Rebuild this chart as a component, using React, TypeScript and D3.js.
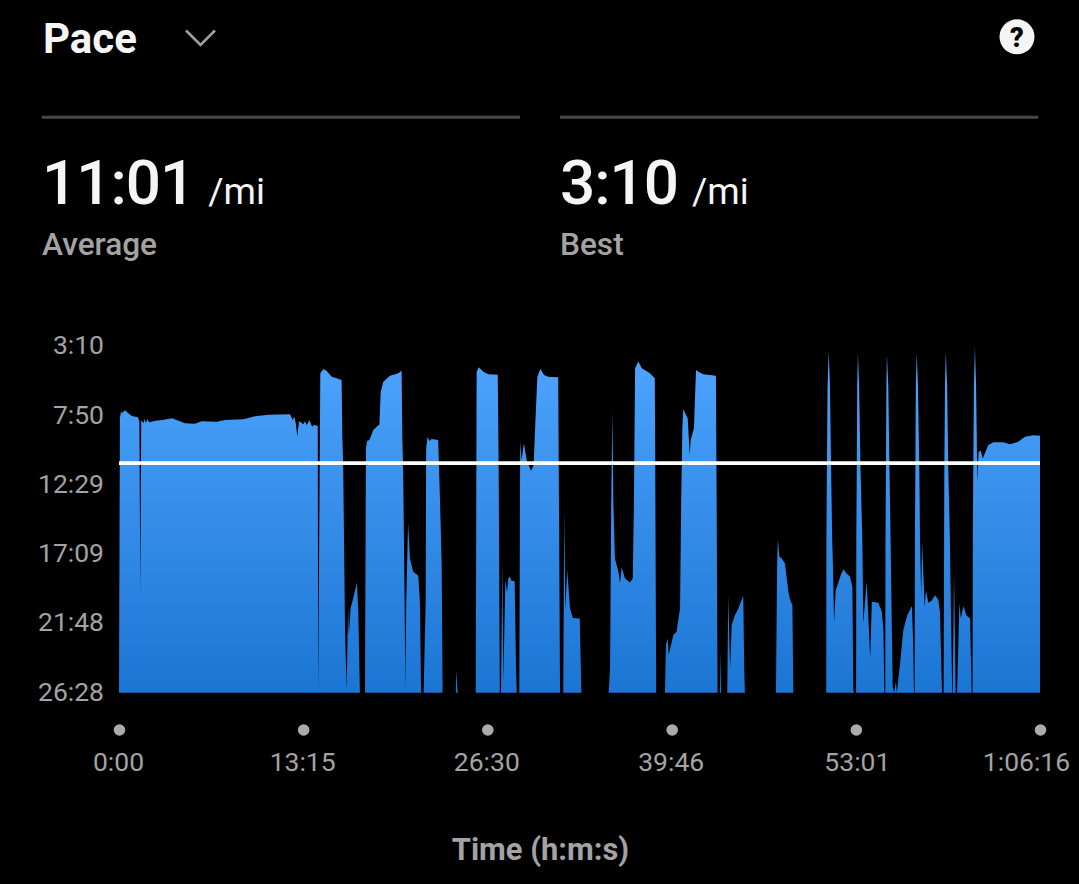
import { useEffect, useRef } from 'react';
import * as d3 from 'd3';

type Sample = [number, number]; // [elapsed seconds, pace in seconds per mile]

const FLOOR = 1588;

const effort1: Sample[] = [[0, FLOOR], [4, 479], [9, 451], [13, 459], [26, 447], [39, 459], [55, 471], [82, 476], [88, 494], [92, 1181], [96, 487], [105, 499], [111, 483], [116, 499], [122, 484], [130, 496], [158, 490], [187, 487], [230, 480], [259, 491], [285, 500], [328, 502], [357, 492], [422, 494], [458, 487], [537, 484], [587, 472], [645, 466], [738, 464], [750, 487], [757, 474], [763, 500], [770, 554], [777, 491], [796, 504], [803, 491], [810, 507], [822, 488], [834, 514], [842, 507], [858, 510], [860, FLOOR]];
const effort2: Sample[] = [[869, 298], [882, 281], [897, 289], [918, 312], [940, 318], [961, 325], [964, 548], [968, 681], [976, 1356], [983, 1571], [989, 1234], [992, 1356], [1000, 1246], [1011, 1207], [1027, 1143], [1033, 1261], [1040, FLOOR]];
const effort3: Sample[] = [[1062, FLOOR], [1066, 601], [1071, 572], [1081, 568], [1098, 527], [1117, 510], [1124, 507], [1130, 373], [1141, 332], [1170, 308], [1206, 298], [1220, 288], [1223, 548], [1227, 709], [1233, 1221], [1236, 1571], [1240, 1221], [1248, 904], [1256, 1046], [1270, 1100], [1292, 1116], [1299, 1221], [1304, FLOOR]];
const effort4: Sample[] = [[1315, FLOOR], [1324, 1221], [1326, 601], [1332, 554], [1340, 572], [1350, 564], [1378, 568], [1386, 817], [1393, 1073], [1397, FLOOR], [1454, FLOOR], [1456, 1497], [1462, FLOOR]];
const effort5: Sample[] = [[1540, FLOOR], [1544, 292], [1553, 274], [1573, 292], [1594, 302], [1635, 304], [1639, 681], [1644, FLOOR], [1649, FLOOR], [1655, 1059], [1659, 1544], [1668, 1133], [1675, 1181], [1681, 1126], [1688, 1120], [1695, 1137], [1708, 1137], [1714, 1490], [1717, FLOOR]];
const effort6: Sample[] = [[1728, FLOOR], [1732, 575], [1738, 649], [1748, 581], [1760, 649], [1779, 693], [1790, 669], [1797, 507], [1806, 312], [1819, 281], [1835, 305], [1853, 312], [1896, 314], [1901, 1086], [1904, FLOOR], [1918, FLOOR], [1922, 857], [1927, 1255], [1935, 1093], [1947, 1248], [1959, 1286], [1989, 1288], [1996, FLOOR]];
const effort7: Sample[] = [[2114, FLOOR], [2120, 1490], [2125, 817], [2130, 453], [2134, 817], [2141, 1046], [2156, 1100], [2163, 1147], [2170, 1080], [2184, 1126], [2206, 1143], [2218, 1126], [2223, 817], [2228, 278], [2242, 251], [2257, 278], [2292, 298], [2313, 318], [2315, 682], [2319, FLOOR]];
const effort8: Sample[] = [[2357, FLOOR], [2361, 1396], [2369, 1369], [2373, 1436], [2386, 1383], [2393, 1356], [2407, 1342], [2422, 1248], [2427, 817], [2432, 520], [2436, 443], [2455, 480], [2464, 628], [2468, 568], [2482, 520], [2491, 285], [2501, 292], [2522, 302], [2577, 308], [2580, 817], [2584, FLOOR], [2594, FLOOR], [2596, 1423], [2599, FLOOR]];
const effort9: Sample[] = [[2626, FLOOR], [2630, 1194], [2638, 1490], [2645, 1315], [2659, 1275], [2674, 1248], [2695, 1197], [2699, 1490], [2702, FLOOR], [2836, FLOOR], [2841, 1086], [2844, 968], [2851, 1039], [2861, 1046], [2875, 1066], [2890, 1181], [2897, 1214], [2907, 1234], [2911, FLOOR]];
const sprint1: Sample[] = [[3053, FLOOR], [3054, 972], [3056, 682], [3059, 346], [3064, 207], [3069, 346], [3074, 682], [3079, 972], [3082, 1073], [3087, 1307], [3094, 1174], [3105, 1145], [3116, 1113], [3127, 1089], [3139, 1105], [3156, 1120], [3166, 1160], [3170, 1578], [3173, FLOOR]];
const sprint2: Sample[] = [[3182, FLOOR], [3183, 972], [3185, 682], [3187, 346], [3190, 217], [3195, 346], [3201, 682], [3209, 972], [3213, 1307], [3228, 1140], [3243, 1450], [3250, 1221], [3278, 1225], [3293, 1261], [3300, 1332], [3304, FLOOR]];
const sprint3: Sample[] = [[3308, FLOOR], [3309, 972], [3311, 682], [3313, 346], [3315, 222], [3321, 346], [3326, 682], [3331, 972], [3336, 1307], [3340, 1564], [3346, FLOOR], [3354, 1544], [3358, FLOOR], [3372, 1469], [3386, 1335], [3403, 1275], [3423, 1238], [3428, 1376], [3432, FLOOR]];
const sprint4: Sample[] = [[3435, FLOOR], [3436, 972], [3438, 682], [3440, 346], [3444, 217], [3449, 346], [3455, 682], [3458, 972], [3463, 1201], [3467, 979], [3478, 1241], [3484, 1174], [3494, 1225], [3508, 1217], [3523, 1194], [3537, 1214], [3544, 1261], [3553, FLOOR]];
const sprint5: Sample[] = [[3560, FLOOR], [3562, 972], [3563, 682], [3566, 346], [3569, 211], [3575, 346], [3580, 682], [3587, 972], [3592, 1307], [3597, FLOOR], [3599, FLOOR], [3605, 1100], [3612, FLOOR], [3618, FLOOR], [3628, 1226], [3634, 1287], [3646, 1238], [3658, 1275], [3674, 1288], [3681, FLOOR]];
const cooldown: Sample[] = [[3685, FLOOR], [3686, 972], [3688, 682], [3691, 346], [3695, 191], [3700, 346], [3703, 548], [3705, 736], [3711, 615], [3720, 611], [3729, 642], [3738, 621], [3753, 588], [3775, 577], [3817, 577], [3846, 585], [3882, 575], [3911, 554], [3947, 548], [3976, 550], [3976, FLOOR]];

const samples: Sample[] = [
  ...effort1, ...effort2, ...effort3, ...effort4, ...effort5, ...effort6, ...effort7, ...effort8, ...effort9,
  ...sprint1, ...sprint2, ...sprint3, ...sprint4, ...sprint5, ...cooldown,
];

const paceTicks = [190, 470, 749, 1029, 1308, 1588];
const paceTickLabels = ['3:10', '7:50', '12:29', '17:09', '21:48', '26:28'];
const timeTicks = [0, 795, 1590, 2386, 3181, 3976];
const timeTickLabels = ['0:00', '13:15', '26:30', '39:46', '53:01', '1:06:16'];
const averagePace = 661;
const statCards = [
  { value: '11:01', label: 'Average', x: 42 },
  { value: '3:10', label: 'Best', x: 560 },
];

const FONT = 'Roboto, sans-serif';
const GREY = '#a3a3a3';

export default function App() {
  const svgRef = useRef<SVGSVGElement>(null);

  useEffect(() => {
    if (!svgRef.current) return;
    const svg = d3.select(svgRef.current);
    svg.selectAll('*').remove();
    svg.attr('font-family', FONT);

    const x = d3.scaleLinear().domain([0, 3976]).range([119, 1040]);
    const y = d3.scaleLinear().domain([190, FLOOR]).range([346.5, 692.7]);

    // Header
    svg.append('text').attr('x', 43).attr('y', 53)
      .attr('font-size', 42).attr('font-weight', 700).attr('fill', '#f5f5f5').text('Pace');
    svg.append('path').attr('d', d3.line()([[186, 30.5], [200.5, 45], [215, 30.5]]))
      .attr('fill', 'none').attr('stroke', '#9e9e9e').attr('stroke-width', 2.6);

    svg.append('circle').attr('cx', 1017).attr('cy', 36.8).attr('r', 17.5).attr('fill', '#f5f5f5');
    svg.append('text').attr('x', 1017).attr('y', 46.5).attr('text-anchor', 'middle')
      .attr('font-size', 27).attr('font-weight', 900).attr('fill', '#000').text('?');

    // Stat cards
    statCards.forEach(card => {
      svg.append('line')
        .attr('x1', card.x).attr('x2', card.x + 478)
        .attr('y1', 117.3).attr('y2', 117.3)
        .attr('stroke', '#474747').attr('stroke-width', 3);
      const value = svg.append('text').attr('x', card.x).attr('y', 204).attr('fill', '#f5f5f5');
      value.append('tspan').attr('font-size', 62).attr('font-weight', 500)
        .attr('letter-spacing', -1).text(card.value);
      value.append('tspan').attr('dx', 14).attr('font-size', 37).attr('font-weight', 400).text('/mi');
      svg.append('text').attr('x', card.x).attr('y', 255)
        .attr('font-size', 31.6).attr('font-weight', 500).attr('fill', GREY).text(card.label);
    });

    // Area
    const defs = svg.append('defs');
    const areaGradient = defs.append('linearGradient')
      .attr('id', 'paceGradient')
      .attr('gradientUnits', 'userSpaceOnUse')
      .attr('x1', 0).attr('y1', y(190))
      .attr('x2', 0).attr('y2', y(FLOOR));
    areaGradient.append('stop').attr('offset', '0%').attr('stop-color', '#4fa5ff');
    areaGradient.append('stop').attr('offset', '100%').attr('stop-color', '#1b75d3');

    const area = d3.area<Sample>()
      .x(d => x(d[0]))
      .y0(y(FLOOR))
      .y1(d => y(d[1]));

    svg.append('path')
      .datum(samples)
      .attr('fill', 'url(#paceGradient)')
      .attr('d', area);

    // Average line
    svg.append('line')
      .attr('x1', x(0)).attr('x2', x(3976))
      .attr('y1', y(averagePace)).attr('y2', y(averagePace))
      .attr('stroke', '#fff').attr('stroke-width', 3.6);

    // Y Axis
    svg.append('g')
      .attr('transform', 'translate(108,-1)')
      .call(d3.axisLeft(y).tickValues(paceTicks).tickSize(0).tickPadding(4)
        .tickFormat((_, i) => paceTickLabels[i]))
      .attr('font-size', 26.5)
      .attr('font-family', FONT)
      .attr('color', GREY)
      .call(g => g.select('.domain').remove());

    // X Axis
    const xAxis = svg.append('g')
      .attr('transform', 'translate(0,730)')
      .call(d3.axisBottom(x).tickValues(timeTicks).tickSize(0).tickPadding(22)
        .tickFormat((_, i) => timeTickLabels[i]))
      .attr('font-size', 26.5)
      .attr('font-family', FONT)
      .attr('color', GREY)
      .call(g => g.select('.domain').remove());
    xAxis.selectAll('.tick').append('circle').attr('r', 5.8).attr('fill', '#ababab');
    // last label is pulled in so it stays on the page
    xAxis.selectAll<SVGTextElement, number>('.tick text')
      .attr('x', d => (d === 3976 ? -14 : d === 3181 ? 1 : -1));

    svg.append('text').attr('x', 540.5).attr('y', 860).attr('text-anchor', 'middle')
      .attr('font-size', 30.9).attr('font-weight', 700).attr('fill', GREY).text('Time (h:m:s)');
  }, []);

  return (
    <div style={{ position: 'fixed', inset: 0, background: '#000' }}>
      <svg ref={svgRef} width={1079} height={884} style={{ display: 'block' }}></svg>
    </div>
  );
}
